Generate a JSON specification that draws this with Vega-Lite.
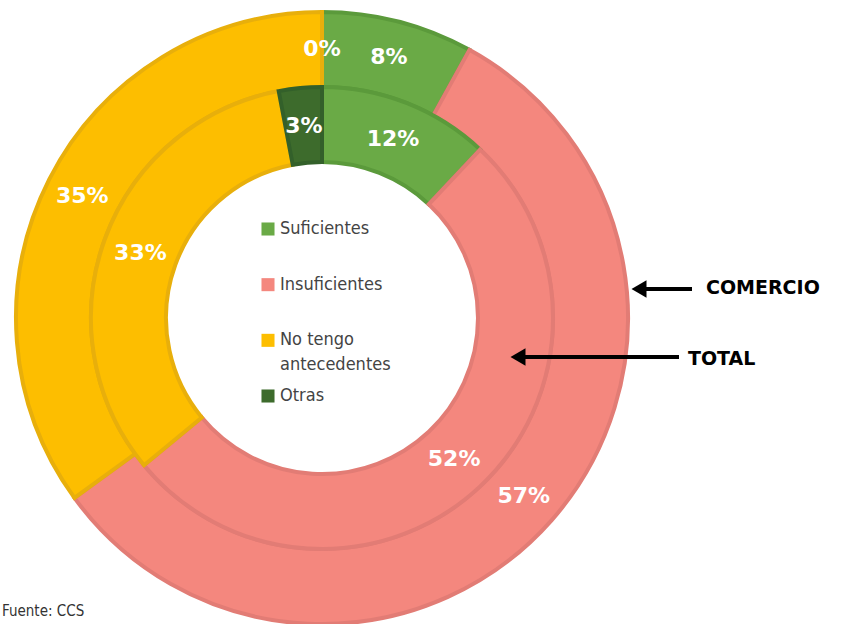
{
  "$schema": "https://vega.github.io/schema/vega-lite/v6.json",
  "width": 841,
  "height": 624,
  "autosize": "none",
  "padding": 0,
  "background": "white",
  "config": {"view": {"stroke": null}},
  "data": {
    "values": [
      {"ring": "COMERCIO", "category": "Suficientes", "pct": 8, "ord": 1, "label": "8%"},
      {"ring": "COMERCIO", "category": "Insuficientes", "pct": 57, "ord": 2, "label": "57%"},
      {"ring": "COMERCIO", "category": "No tengo antecedentes", "pct": 35, "ord": 3, "label": "35%"},
      {"ring": "COMERCIO", "category": "Otras", "pct": 0, "ord": 4, "label": "0%"},
      {"ring": "TOTAL", "category": "Suficientes", "pct": 12, "ord": 1, "label": "12%"},
      {"ring": "TOTAL", "category": "Insuficientes", "pct": 52, "ord": 2, "label": "52%"},
      {"ring": "TOTAL", "category": "No tengo antecedentes", "pct": 33, "ord": 3, "label": "33%"},
      {"ring": "TOTAL", "category": "Otras", "pct": 3, "ord": 4, "label": "3%"}
    ]
  },
  "resolve": {"scale": {"y": "independent"}},
  "layer": [
    {
      "transform": [{"filter": "datum.ring == 'COMERCIO' && datum.pct > 0"}],
      "mark": {"type": "arc", "radius": 306, "radius2": 231, "strokeWidth": 4, "strokeJoin": "miter"},
      "encoding": {
        "theta": {"field": "pct", "type": "quantitative", "stack": true, "scale": {"domain": [0, 100]}},
        "order": {"field": "ord", "type": "quantitative"},
        "color": {
          "field": "category", "type": "nominal",
          "scale": {"domain": ["Suficientes", "Insuficientes", "No tengo antecedentes", "Otras"], "range": ["#6aaa46", "#f4877e", "#fdbe00", "#3d6b2c"]},
          "legend": null
        },
        "stroke": {
          "field": "category", "type": "nominal",
          "scale": {"domain": ["Suficientes", "Insuficientes", "No tengo antecedentes", "Otras"], "range": ["#5b9a3b", "#e27c75", "#e8af0b", "#33602a"]},
          "legend": null
        },
        "x": {"datum": 0, "type": "quantitative", "scale": {"domain": [-322, 519], "nice": false, "zero": false}, "axis": null},
        "y": {"datum": 0, "type": "quantitative", "scale": {"domain": [-306, 318], "nice": false, "zero": false}, "axis": null}
      }
    },
    {
      "transform": [{"filter": "datum.ring == 'TOTAL' && datum.pct > 0"}],
      "mark": {"type": "arc", "radius": 231, "radius2": 156, "strokeWidth": 4, "strokeJoin": "miter"},
      "encoding": {
        "theta": {"field": "pct", "type": "quantitative", "stack": true, "scale": {"domain": [0, 100]}},
        "order": {"field": "ord", "type": "quantitative"},
        "color": {"field": "category", "type": "nominal", "legend": null},
        "stroke": {"field": "category", "type": "nominal", "legend": null},
        "x": {"datum": 0, "type": "quantitative", "scale": {"domain": [-322, 519], "nice": false, "zero": false}, "axis": null},
        "y": {"datum": 0, "type": "quantitative", "scale": {"domain": [-306, 318], "nice": false, "zero": false}, "axis": null}
      }
    },
    {
      "transform": [{"filter": "datum.ring == 'COMERCIO'"}],
      "mark": {"type": "text", "radius": 269, "font": "DejaVu Sans", "fontWeight": "bold", "fontSize": 22, "fill": "white", "align": "center", "baseline": "middle"},
      "encoding": {
        "theta": {"field": "pct", "type": "quantitative", "stack": true},
        "order": {"field": "ord", "type": "quantitative"},
        "text": {"field": "label", "type": "nominal"},
        "x": {"datum": 0, "type": "quantitative", "scale": {"domain": [-322, 519], "nice": false, "zero": false}, "axis": null},
        "y": {"datum": 0, "type": "quantitative", "scale": {"domain": [-306, 318], "nice": false, "zero": false}, "axis": null}
      }
    },
    {
      "transform": [{"filter": "datum.ring == 'TOTAL'"}],
      "mark": {"type": "text", "radius": 193, "font": "DejaVu Sans", "fontWeight": "bold", "fontSize": 22, "fill": "white", "align": "center", "baseline": "middle"},
      "encoding": {
        "theta": {"field": "pct", "type": "quantitative", "stack": true},
        "order": {"field": "ord", "type": "quantitative"},
        "text": {"field": "label", "type": "nominal"},
        "x": {"datum": 0, "type": "quantitative", "scale": {"domain": [-322, 519], "nice": false, "zero": false}, "axis": null},
        "y": {"datum": 0, "type": "quantitative", "scale": {"domain": [-306, 318], "nice": false, "zero": false}, "axis": null}
      }
    },
    {
      "transform": [{"filter": "datum.ring == 'TOTAL'"}],
      "mark": {"type": "point", "shape": "square", "filled": true, "size": 170, "opacity": 1},
      "encoding": {
        "color": {"field": "category", "type": "nominal", "legend": null},
        "x": {"datum": -54, "type": "quantitative", "scale": {"domain": [-322, 519], "nice": false, "zero": false}, "axis": null},
        "y": {"field": "ord", "type": "quantitative", "scale": {"domain": [1, 4], "range": [229, 396], "nice": false, "zero": false}, "axis": null}
      }
    },
    {
      "transform": [
        {"filter": "datum.ring == 'TOTAL'"},
        {"calculate": "datum.category == 'No tengo antecedentes' ? ['No tengo', 'antecedentes'] : datum.category", "as": "legendLabel"}
      ],
      "mark": {"type": "text", "font": "Liberation Sans Narrow, DejaVu Sans Condensed, Roboto Condensed, Roboto", "fontSize": 18, "color": "#444444", "align": "left", "baseline": "middle", "lineHeight": 25},
      "encoding": {
        "text": {"field": "legendLabel"},
        "x": {"datum": -42, "type": "quantitative", "scale": {"domain": [-322, 519], "nice": false, "zero": false}, "axis": null},
        "y": {"field": "ord", "type": "quantitative", "scale": {"domain": [1, 4], "range": [229, 396], "nice": false, "zero": false}, "axis": null}
      }
    },
    {
      "data": {"values": [{"name": "COMERCIO"}]},
      "mark": {"type": "rule", "strokeWidth": 4, "color": "black"},
      "encoding": {
        "x": {"datum": 322, "type": "quantitative", "scale": {"domain": [-322, 519], "nice": false, "zero": false}, "axis": null},
        "x2": {"datum": 370},
        "y": {"datum": 29, "type": "quantitative", "scale": {"domain": [-306, 318], "nice": false, "zero": false}, "axis": null}
      }
    },
    {
      "data": {"values": [{"name": "COMERCIO"}]},
      "mark": {"type": "point", "shape": "triangle-left", "filled": true, "size": 300, "color": "black", "opacity": 1},
      "encoding": {
        "x": {"datum": 317, "type": "quantitative", "scale": {"domain": [-322, 519], "nice": false, "zero": false}, "axis": null},
        "y": {"datum": 29, "type": "quantitative", "scale": {"domain": [-306, 318], "nice": false, "zero": false}, "axis": null}
      }
    },
    {
      "data": {"values": [{"name": "TOTAL"}]},
      "mark": {"type": "rule", "strokeWidth": 4, "color": "black"},
      "encoding": {
        "x": {"datum": 200, "type": "quantitative", "scale": {"domain": [-322, 519], "nice": false, "zero": false}, "axis": null},
        "x2": {"datum": 357},
        "y": {"datum": -39, "type": "quantitative", "scale": {"domain": [-306, 318], "nice": false, "zero": false}, "axis": null}
      }
    },
    {
      "data": {"values": [{"name": "TOTAL"}]},
      "mark": {"type": "point", "shape": "triangle-left", "filled": true, "size": 300, "color": "black", "opacity": 1},
      "encoding": {
        "x": {"datum": 196, "type": "quantitative", "scale": {"domain": [-322, 519], "nice": false, "zero": false}, "axis": null},
        "y": {"datum": -39, "type": "quantitative", "scale": {"domain": [-306, 318], "nice": false, "zero": false}, "axis": null}
      }
    },
    {
      "data": {"values": [{"name": "COMERCIO"}]},
      "mark": {"type": "text", "font": "DejaVu Sans", "fontWeight": "bold", "fontSize": 19, "color": "black", "align": "left", "baseline": "middle"},
      "encoding": {
        "text": {"field": "name", "type": "nominal"},
        "x": {"datum": 384, "type": "quantitative", "scale": {"domain": [-322, 519], "nice": false, "zero": false}, "axis": null},
        "y": {"datum": 30, "type": "quantitative", "scale": {"domain": [-306, 318], "nice": false, "zero": false}, "axis": null}
      }
    },
    {
      "data": {"values": [{"name": "TOTAL"}]},
      "mark": {"type": "text", "font": "DejaVu Sans", "fontWeight": "bold", "fontSize": 19, "color": "black", "align": "left", "baseline": "middle"},
      "encoding": {
        "text": {"field": "name", "type": "nominal"},
        "x": {"datum": 366, "type": "quantitative", "scale": {"domain": [-322, 519], "nice": false, "zero": false}, "axis": null},
        "y": {"datum": -41, "type": "quantitative", "scale": {"domain": [-306, 318], "nice": false, "zero": false}, "axis": null}
      }
    },
    {
      "data": {"values": [{"source": "Fuente: CCS"}]},
      "mark": {"type": "text", "font": "Liberation Sans Narrow, DejaVu Sans Condensed, Roboto Condensed, Roboto", "fontSize": 15, "color": "#333333", "align": "left", "baseline": "middle"},
      "encoding": {
        "text": {"field": "source", "type": "nominal"},
        "x": {"datum": -320, "type": "quantitative", "scale": {"domain": [-322, 519], "nice": false, "zero": false}, "axis": null},
        "y": {"datum": -293, "type": "quantitative", "scale": {"domain": [-306, 318], "nice": false, "zero": false}, "axis": null}
      }
    }
  ]
}
